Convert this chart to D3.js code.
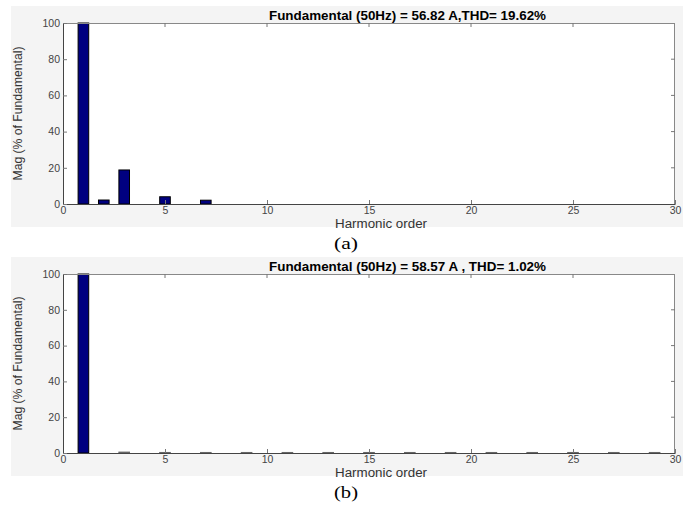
<!DOCTYPE html>
<html>
<head>
<meta charset="utf-8">
<title>Harmonic spectrum</title>
<script src="https://cdnjs.cloudflare.com/ajax/libs/d3/7.8.5/d3.min.js"></script>
<style>
	html, body{
		margin:0;
		background:#ffffff;
	}
	svg text{
		font-family: "Liberation Sans", Arial, sans-serif;
	}
</style>
</head>
<body>
<svg id="chart" width="695" height="506"></svg>
<script>
// harmonic orders shown on the axis
var orders = [1,2,3,4,5,6,7,8,9,10,11,12,13,14,15,16,17,18,19,20,21,22,23,24,25,26,27,28,29,30];

// (a) magnitude, % of fundamental
var magA = [100,2.2,18.8,0,4,0,2.1,0,0,0,0,0,0,0,0,0,0,0,0,0,0,0,0,0,0,0,0,0,0,0];
// (b) magnitude, % of fundamental
var magB = [100,0,0.5,0,0.3,0,0.3,0,0.3,0,0.3,0,0.3,0,0.3,0,0.3,0,0.3,0,0.3,0,0.3,0,0.3,0,0.3,0,0.3,0];

var xTicks = [0,5,10,15,20,25,30];
var yTicks = [0,20,40,60,80,100];

var titleA = "Fundamental (50Hz) = 56.82 A,THD= 19.62%";
var titleB = "Fundamental (50Hz) = 58.57 A , THD= 1.02%";

var svg = d3.select("#chart");

// bgTop/bgBottom, pTop/pBottom in page pixels
function drawPanel(bgTop, bgBottom, pTop, pBottom, values, title, letter, letterY) {
	var g = svg.append("g");
	var left = 63, right = 675;

	// figure background
	g.append("rect").attr("x", 11).attr("y", bgTop).attr("width", 672).attr("height", bgBottom - bgTop)
		.attr("fill", "#f4f4f4");
	g.append("rect").attr("x", left).attr("y", pTop).attr("width", right - left).attr("height", pBottom - pTop)
		.attr("fill", "#ffffff");

	var x = d3.scaleLinear().domain([0, 30]).range([left, right]);
	var y = d3.scaleLinear().domain([0, 100]).range([pBottom, pTop]);
	var bw = 0.26;

	var data = orders.map(function(o, i){ return {o: o, v: values[i]}; })
		.filter(function(d){ return d.v > 0; });

	g.selectAll("rect.bar").data(data).enter().append("rect")
		.attr("class", "bar")
		.attr("x", function(d){ return x(d.o - bw); })
		.attr("width", function(d){ return x(d.o + bw) - x(d.o - bw); })
		.attr("y", function(d){ return y(d.v); })
		.attr("height", function(d){ return Math.max(0.8, y(0) - y(d.v)); })
		.attr("fill", "#000080")
		.attr("stroke", function(d){ return d.v < 1 ? "#666" : "#000"; })
		.attr("stroke-width", 1);

	// box
	g.append("line").attr("x1", left).attr("x2", right).attr("y1", pTop + 0.5).attr("y2", pTop + 0.5)
		.attr("stroke", "#888");
	g.append("line").attr("x1", right - 0.5).attr("x2", right - 0.5).attr("y1", pTop).attr("y2", pBottom)
		.attr("stroke", "#888");

	// axes with inward ticks, MATLAB style
	var xAxis = g.append("g").attr("transform", "translate(0," + pBottom + ")")
		.call(d3.axisBottom(x).tickValues(xTicks).tickSizeInner(-4).tickSizeOuter(0).tickPadding(3));
	var yAxis = g.append("g").attr("transform", "translate(" + left + ",0)")
		.call(d3.axisLeft(y).tickValues(yTicks).tickSizeInner(-4).tickSizeOuter(0).tickPadding(3));
	[xAxis, yAxis].forEach(function(a){
		a.select(".domain").attr("stroke", "#444");
		a.selectAll(".tick line").attr("stroke", "#777");
		a.selectAll(".tick text").attr("fill", "#444").style("font-size", "10.5px")
			.style("font-family", "'Liberation Sans', Arial, sans-serif");
	});

	// top and right ticks
	g.selectAll("line.tt").data(xTicks.slice(1, -1)).enter().append("line")
		.attr("x1", function(d){ return x(d); }).attr("x2", function(d){ return x(d); })
		.attr("y1", pTop).attr("y2", pTop + 4).attr("stroke", "#777");
	g.selectAll("line.rt").data(yTicks.slice(1, -1)).enter().append("line")
		.attr("x1", right - 4).attr("x2", right).attr("y1", function(d){ return y(d); })
		.attr("y2", function(d){ return y(d); }).attr("stroke", "#777");

	g.append("text").attr("x", 407.5).attr("y", pTop - 3).attr("text-anchor", "middle")
		.style("font-size", "12px").style("font-weight", "bold").attr("fill", "#000")
		.attr("textLength", 277).attr("lengthAdjust", "spacingAndGlyphs")
		.text(title);

	g.append("text").attr("x", 381).attr("y", pBottom + 24).attr("text-anchor", "middle")
		.style("font-size", "12.5px").attr("fill", "#333")
		.attr("textLength", 92).attr("lengthAdjust", "spacingAndGlyphs")
		.text("Harmonic order");

	g.append("text").attr("transform", "translate(22," + ((pTop + pBottom) / 2) + ") rotate(-90)")
		.attr("text-anchor", "middle").style("font-size", "12px").attr("fill", "#333")
		.attr("textLength", 134).attr("lengthAdjust", "spacingAndGlyphs")
		.text("Mag (% of Fundamental)");

	g.append("text").attr("x", 346).attr("y", letterY).attr("text-anchor", "middle")
		.style("font-family", "'Liberation Serif', 'Times New Roman', serif").style("font-size", "17px")
		.attr("textLength", 24).attr("lengthAdjust", "spacingAndGlyphs")
		.attr("fill", "#000").text(letter);
}

drawPanel(6, 227, 23, 204, magA, titleA, "(a)", 249);
drawPanel(257, 476, 274, 453, magB, titleB, "(b)", 498);
</script>
</body>
</html>
